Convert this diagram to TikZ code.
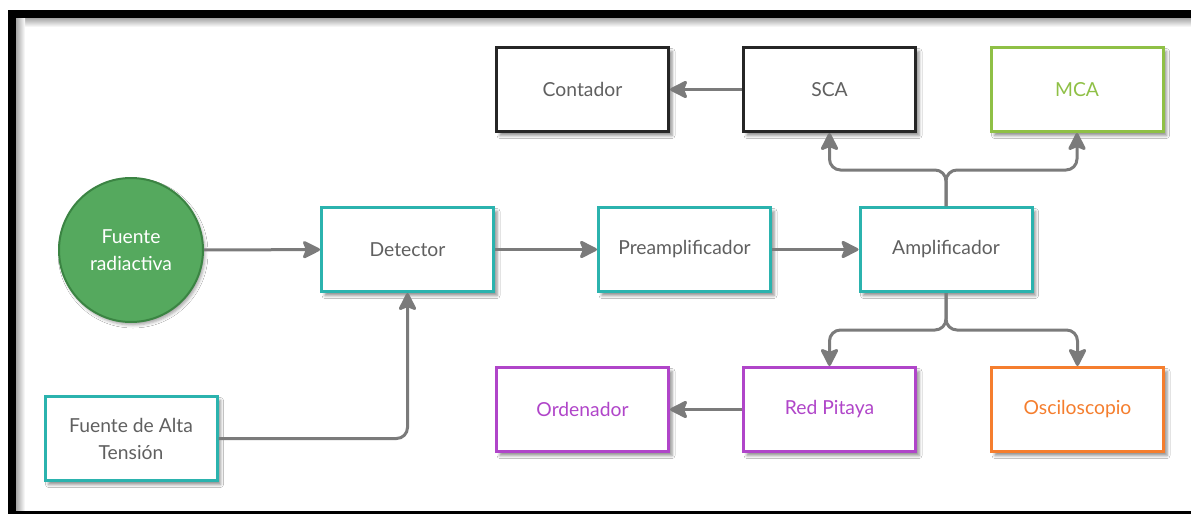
\documentclass[tikz,border=0pt]{standalone}
\usepackage{fontspec}
\setmainfont{Lato}
\usetikzlibrary{arrows.meta,shadows.blur}

\definecolor{tealb}{HTML}{2BB3AE}
\definecolor{darkb}{HTML}{262626}
\definecolor{limeb}{HTML}{8FC046}
\definecolor{purpb}{HTML}{B045C9}
\definecolor{orngb}{HTML}{F57E2E}
\definecolor{srcfill}{HTML}{55A95E}
\definecolor{srcline}{HTML}{3B8443}
\definecolor{txtgray}{HTML}{606060}
\definecolor{wiregray}{HTML}{7B7B7B}

\tikzset{
  block/.style={draw, fill=white, line width=3pt, minimum width=172pt,
    minimum height=84pt, font=\fontsize{19.3}{23}\selectfont, text=txtgray,
    align=center,
    blur shadow={shadow xshift=3.5pt, shadow yshift=-4pt,
      shadow blur radius=3pt, shadow opacity=45}},
  tealbox/.style={block, draw=tealb},
  darkbox/.style={block, draw=darkb},
  limebox/.style={block, draw=limeb, text=limeb},
  purpbox/.style={block, draw=purpb, text=purpb},
  orngbox/.style={block, draw=orngb, text=orngb},
  source/.style={circle, draw=srcline, fill=srcfill, line width=2pt,
    minimum size=144pt, inner sep=0pt, text=white, align=center,
    font=\fontsize{19.3}{27}\selectfont,
    blur shadow={shadow xshift=2pt, shadow yshift=-3pt,
      shadow blur radius=3pt, shadow opacity=35}},
  wire/.style={draw=wiregray, line width=3pt, rounded corners=11pt,
    -{Stealth[length=20pt, width=20pt, inset=4pt, round]}},
}

\begin{document}
\begin{tikzpicture}[x=1pt, y=-1pt]
  % page and window frame
  \fill[white] (0,0) rectangle (1191,514);
  \useasboundingbox (0,0) rectangle (1191,514);
  \shade[top color=black!35, bottom color=white] (16,18) rectangle (1191,27);
  \shade[left color=black!35, right color=white] (16,18) rectangle (25,510);
  \fill[black] (8,10) rectangle (1191,18);
  \fill[black] (8,10) rectangle (16,514);
  \fill[black] (8,510.5) rectangle (1191,514);

  % nodes
  \node[source] (src) at (131,250) {Fuente\\radiactiva};
  \node[tealbox] (det) at (407.5,249.5) {Detector};
  \node[tealbox] (pre) at (684.5,249.5) {Preamplificador};
  \node[tealbox] (amp) at (946,249.5) {Amplificador};
  \node[tealbox, font=\fontsize{19.3}{27}\selectfont] (hv) at (131,438.5) {Fuente de Alta\\Tensión};
  \node[darkbox] (cnt) at (582.5,89.5) {Contador};
  \node[darkbox] (sca) at (829.5,89.5) {SCA};
  \node[limebox] (mca) at (1077,89.5) {MCA};
  \node[purpbox] (pc) at (582.5,409.5) {Ordenador};
  \node[purpbox] (rp) at (829.5,409.5) {Red Pitaya};
  \node[orngbox] (osc) at (1077.5,409.5) {Osciloscopio};

  % junction points of the branched connectors
  \coordinate (hvturn) at (det.south |- hv.east);
  \coordinate (upsplit) at (946,170);
  \coordinate (dnsplit) at (946,330);

  % connectors
  \draw[wire] (src) -- (det);
  \draw[wire] (det) -- (pre);
  \draw[wire] (pre) -- (amp);
  \draw[wire] (sca) -- (cnt);
  \draw[wire] (rp) -- (pc);
  \draw[wire] (hv.east) -- (hvturn) -- (det.south);
  \draw[wire] (amp.north) -- (upsplit) -- (sca.south |- upsplit) -- (sca.south);
  \draw[wire] (amp.north) -- (upsplit) -- (mca.south |- upsplit) -- (mca.south);
  \draw[wire] (amp.south) -- (dnsplit) -- (rp.north |- dnsplit) -- (rp.north);
  \draw[wire] (amp.south) -- (dnsplit) -- (osc.north |- dnsplit) -- (osc.north);
\end{tikzpicture}
\end{document}
